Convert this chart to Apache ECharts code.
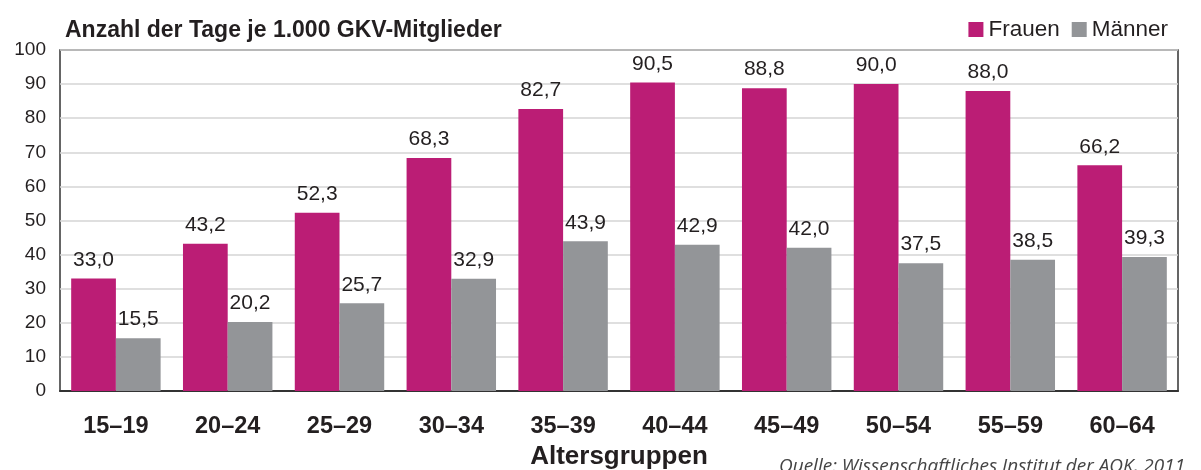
<!DOCTYPE html>
<html>
<head>
<meta charset="utf-8">
<script src="https://cdn.jsdelivr.net/npm/echarts@6/dist/echarts.min.js"></script>
<style>
  html, body { margin: 0; padding: 0; background: #fff; }
  #chart { width: 1201px; height: 470px; }
</style>
</head>
<body>
<div id="chart"></div>
<script>
// Arbeitsunfähigkeitstage je 1.000 GKV-Mitglieder nach Altersgruppen
const categories = ['15–19', '20–24', '25–29', '30–34', '35–39', '40–44', '45–49', '50–54', '55–59', '60–64'];
const frauen = [33.0, 43.2, 52.3, 68.3, 82.7, 90.5, 88.8, 90.0, 88.0, 66.2];
const maenner = [15.5, 20.2, 25.7, 32.9, 43.9, 42.9, 42.0, 37.5, 38.5, 39.3];
const yTicks = [0, 10, 20, 30, 40, 50, 60, 70, 80, 90, 100];

const fmt = v => v.toFixed(1).replace('.', ',');
const FONT = '"Liberation Sans", Arial, sans-serif';

const chart = echarts.init(document.getElementById('chart'), null, { renderer: 'canvas' });

const valueLabel = {
  show: true,
  position: 'top',
  distance: 8,
  fontFamily: FONT,
  fontSize: 21,
  color: '#231f20',
  formatter: p => fmt(p.value)
};

chart.setOption({
  animation: false,
  backgroundColor: '#ffffff',
  title: {
    text: 'Anzahl der Tage je 1.000 GKV-Mitglieder',
    left: 60,
    top: 14,
    textStyle: { fontFamily: FONT, fontSize: 23, fontWeight: 'bold', color: '#231f20' }
  },
  legend: {
    right: 28,
    top: 13,
    itemWidth: 15,
    itemHeight: 15,
    itemGap: 12,
    icon: 'rect',
    textStyle: { fontFamily: FONT, fontSize: 22.5, color: '#231f20', padding: [0, 0, 0, 0] },
    data: ['Frauen', 'Männer']
  },
  graphic: [
    {
      type: 'text',
      left: 779,
      top: 457,
      style: {
        text: 'Quelle: Wissenschaftliches Institut der AOK, 2011',
        fontFamily: '"Open Sans", "Noto Sans", sans-serif',
        fontStyle: 'italic',
        fontSize: 19,
        fill: '#444'
      }
    }
  ],
  grid: {
    left: 60,
    right: 23,
    top: 50,
    bottom: 79,
    outerBoundsMode: 'none',
    show: true,
    borderColor: '#333',
    borderWidth: 1.5
  },
  xAxis: {
    type: 'category',
    data: categories,
    name: 'Altersgruppen',
    nameLocation: 'middle',
    nameGap: 51,
    nameTextStyle: { fontFamily: FONT, fontSize: 26, fontWeight: 'bold', color: '#231f20' },
    axisTick: { show: false },
    axisLine: { show: true, lineStyle: { color: '#333', width: 2 } },
    axisLabel: {
      margin: 24,
      fontFamily: FONT,
      fontSize: 23.5,
      fontWeight: 'bold',
      color: '#231f20'
    }
  },
  yAxis: {
    type: 'value',
    min: 0,
    max: 100,
    interval: 10,
    axisLine: { show: false },
    axisTick: { show: false },
    axisLabel: {
      margin: 14,
      fontFamily: FONT,
      fontSize: 19,
      color: '#231f20',
      formatter: v => (yTicks.includes(v) ? String(v) : '')
    },
    splitLine: { show: true, lineStyle: { color: '#d4d4d4', width: 1.5 } }
  },
  series: [
    {
      name: 'Frauen',
      type: 'bar',
      data: frauen,
      barGap: '0%',
      barCategoryGap: '20%',
      itemStyle: { color: '#bb1d75' },
      label: valueLabel
    },
    {
      name: 'Männer',
      type: 'bar',
      data: maenner,
      itemStyle: { color: '#939598' },
      label: valueLabel
    }
  ]
});
</script>
</body>
</html>
